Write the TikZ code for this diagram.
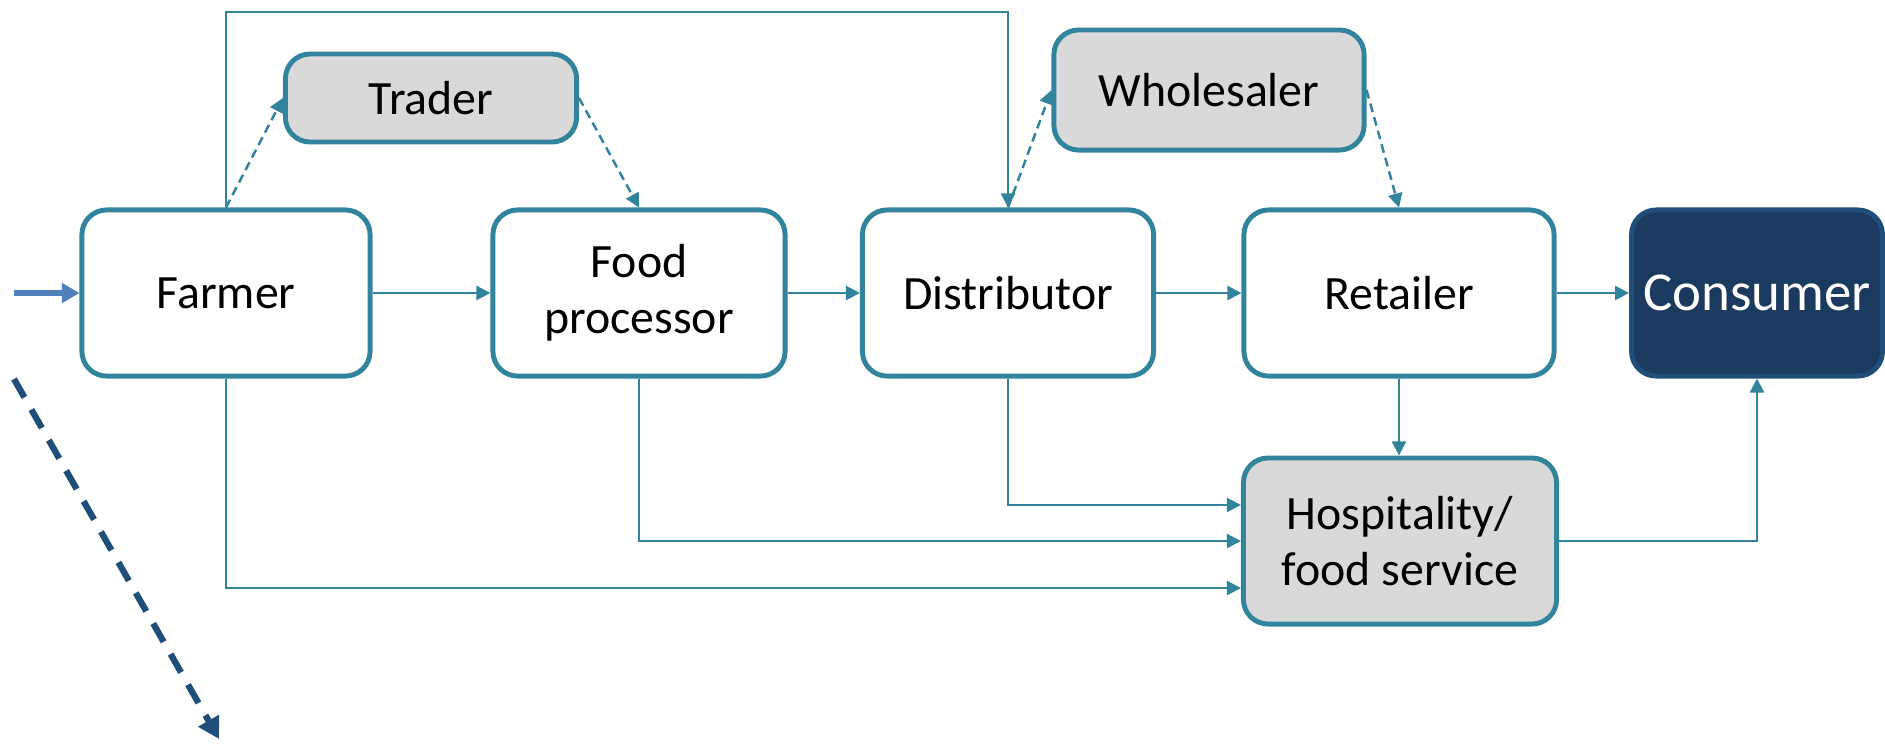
\documentclass[tikz,border=0pt]{standalone}
\usepackage{fontspec}
\setmainfont{Carlito}
\usepackage{tikz}
\usetikzlibrary{positioning,arrows.meta}

\definecolor{chainteal}{HTML}{31849B}
\definecolor{chaingray}{HTML}{D9D9D9}
\definecolor{consfill}{HTML}{1B3A5F}
\definecolor{consedge}{HTML}{1F4E79}
\definecolor{entryblue}{HTML}{4F81BD}

\begin{document}
\begin{tikzpicture}[x=0.01cm, y=-0.01cm, font=\fontsize{13.6}{16}\selectfont,
    stage/.style={rectangle, rounded corners=7pt, draw=chainteal, line width=1.4pt, fill=white, minimum height=1.66cm, align=center},
    side/.style={stage, fill=chaingray},
    flow/.style={draw=chainteal, line width=0.7pt, -{Triangle[length=4pt, width=4pt]}},
    maybe/.style={flow, dash pattern=on 2.5pt off 1.5pt},
    entry/.style={draw=entryblue, line width=1.6pt, -{Triangle[length=5pt, width=5.5pt]}},
    trend/.style={draw=consedge, line width=1.8pt, dash pattern=on 6pt off 4pt, -{Triangle[length=6pt, width=6.5pt]}}]
    \useasboundingbox (0,0) rectangle (1885,748);

    % main chain
    \node [stage, minimum width=2.88cm] (farmer) at (226,293) {Farmer};
    \node [stage, minimum width=2.92cm] (proc) at (639,293) {Food\\processor};
    \node [stage, minimum width=2.91cm] (dist) at (1008,293) {Distributor};
    \node [stage, minimum width=3.10cm] (retail) at (1399,293) {Retailer};
    \node [stage, minimum width=2.50cm, fill=consfill, draw=consedge, text=white, font=\fontsize{15.6}{18}\selectfont] (cons) at (1757,293) {Consumer};

    % side actors
    \node [side, minimum width=2.91cm, minimum height=0.88cm] (trader) at (431,98) {Trader};
    \node [side, minimum width=3.10cm, minimum height=1.20cm] (whole) at (1209,90) {Wholesaler};
    \node [side, minimum width=3.13cm] (hosp) at (1400,541) {Hospitality/\\food service};

    \coordinate (top) at (0,12);
    \coordinate (in) at (14,293);
    \coordinate (dstart) at (14,379);
    \coordinate (dend) at (219,739);

    \draw [entry] (in) -- (farmer.west);
    \draw [flow] (farmer) -- (proc);
    \draw [flow] (proc) -- (dist);
    \draw [flow] (dist) -- (retail);
    \draw [flow] (retail) -- (cons);

    \draw [flow] (farmer.north) -- (farmer.north |- top) -| (dist.north);
    \draw [maybe] (farmer.north) -- (trader.west);
    \draw [maybe] (trader.east) -- (proc.north);
    \draw [maybe] (dist.north) -- (whole.west);
    \draw [maybe] (whole.east) -- (retail.north);

    \draw [flow] (retail.south) -- (retail.south |- hosp.north);
    \draw [flow] (dist.south) |- ([yshift=0.36cm]hosp.west);
    \draw [flow] (proc.south) |- (hosp.west);
    \draw [flow] (farmer.south) |- ([yshift=-0.47cm]hosp.west);
    \draw [flow] (hosp.east) -| (cons.south);

    \draw [trend] (dstart) -- (dend);
\end{tikzpicture}
\end{document}
